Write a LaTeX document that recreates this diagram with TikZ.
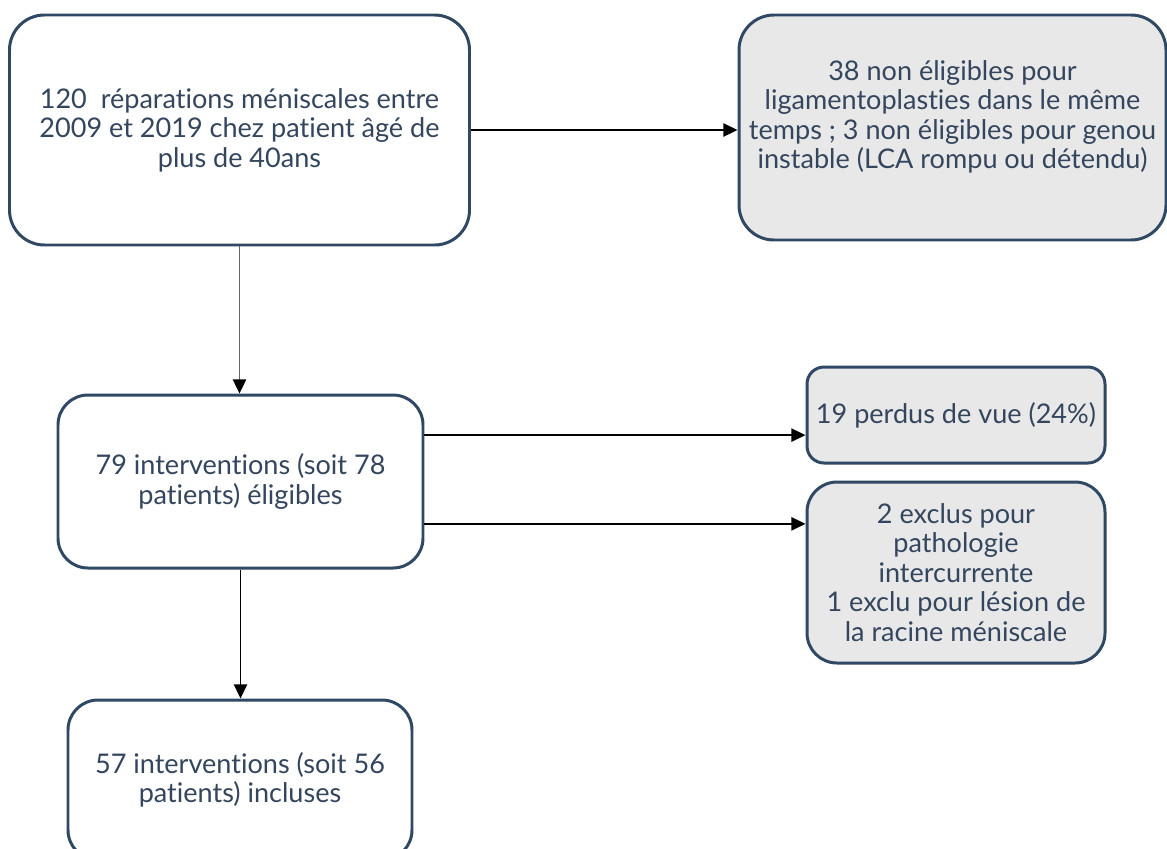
\documentclass[tikz,border=0pt]{standalone}
\usepackage{fontspec}
\setmainfont{Lato}[Ligatures={NoCommon,NoRare}, Contextuals=NoAlternate]
\usetikzlibrary{arrows.meta}
\definecolor{boxBorder}{RGB}{47,72,99}
\definecolor{boxText}{RGB}{52,70,94}
\definecolor{boxFill}{RGB}{232,232,232}
\newcommand{\unitLen}{0.02cm}
\tikzstyle{flowChart} = [x = \unitLen, y = -\unitLen]
\tikzstyle{boxStyle} = [draw=boxBorder, line width=1.7pt, fill=white, text=boxText, align=center, inner sep=0pt, rounded corners=.6cm, font=\fontsize{15.4}{16.8}\selectfont]
\tikzstyle{greyBoxStyle} = [boxStyle, fill=boxFill]
\tikzstyle{arrowStyle} = [-{Triangle[length=8pt, width=7.5pt, color=black]}, line width=.9pt, black]
\newcommand{\flowBox}[7]{\node [#1, minimum width=#4*\unitLen, minimum height=#5*\unitLen, rounded corners=#6*\unitLen] (#2) at (#3) {#7};}

\begin{document}
\begin{tikzpicture}[flowChart]
    \useasboundingbox (0,0) rectangle (1167,849);
    \flowBox{boxStyle}{eligStart}{239.5,130}{460}{230}{35}{120\ \ réparations méniscales entre\\2009 et 2019 chez patient âgé de\\plus de 40ans}
    \flowBox{greyBoxStyle}{nonElig}{952.5,127.5}{427}{225}{35}{38 non éligibles pour\\ligamentoplasties dans le même\\temps ; 3 non éligibles pour genou\\instable (LCA rompu ou détendu)\\[-2pt]}
    \flowBox{boxStyle}{eligible}{240.5,481.5}{365}{173}{30}{79 interventions (soit 78\\patients) éligibles}
    \flowBox{greyBoxStyle}{lostView}{956,415}{298}{96}{17}{19 perdus de vue (24\%)}
    \flowBox{greyBoxStyle}{excluded}{956,572.5}{298}{181}{30}{2 exclus pour\\pathologie\\intercurrente\\1 exclu pour lésion de\\la racine méniscale}
    \flowBox{boxStyle}{included}{240,780}{344}{160}{30}{57 interventions (soit 56\\patients) incluses}
    \coordinate (lostStart) at ([yshift=26.4pt]eligible.east);
    \coordinate (exclStart) at ([yshift=-24.1pt]eligible.east);
    \draw [arrowStyle] (eligStart.east) -- (eligStart.east -| nonElig.west);
    \draw [arrowStyle, draw=black!60, line width=1.1pt] (eligStart.south) -- (eligStart.south |- eligible.north);
    \draw [arrowStyle] (lostStart) -- (lostStart -| lostView.west);
    \draw [arrowStyle] (exclStart) -- (exclStart -| excluded.west);
    \draw [arrowStyle] (eligible.south) -- (eligible.south |- included.north);
\end{tikzpicture}
\end{document}
